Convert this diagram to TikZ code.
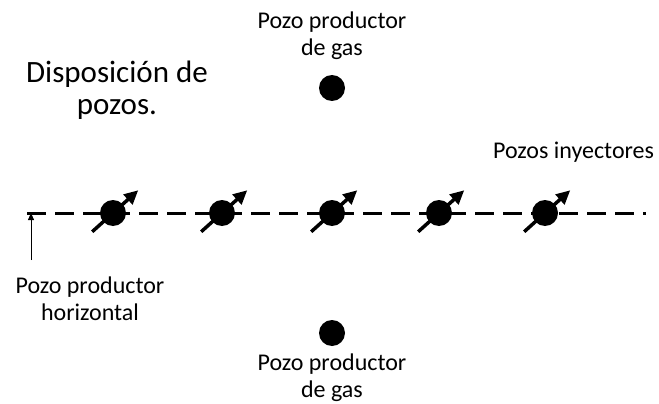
\documentclass[tikz,border=0pt]{standalone}
\usepackage{fontspec}
\setmainfont{Carlito}
\usetikzlibrary{arrows.meta}

\begin{document}
\begin{tikzpicture}[
  x=1pt, y=1pt,
  lbl/.style={font=\fontsize{24}{27}\selectfont, align=center, inner sep=0pt},
  ttl/.style={font=\fontsize{31}{32}\selectfont, align=center, inner sep=0pt},
  well/.style={circle, fill=black, minimum size=26pt, inner sep=0pt},
  trace/.style={line width=3pt, dash pattern=on 19pt off 9pt},
  injarr/.style={-{Triangle[length=14pt,width=13pt]}, line width=3.5pt},
  thinarr/.style={-{Triangle[length=7pt,width=6pt]}, line width=0.8pt}
]
\useasboundingbox (0,0) rectangle (659,-404);

% ===== title =====
\node[ttl] (title) at (117,-90) {Disposición de\\pozos.};

% ===== gas producers =====
\node[well] (gasN) at (332,-88) {};
\node[well] (gasS) at (332,-333) {};
\node[lbl] (gasNlbl) at (332,-36) {Pozo productor\\de gas};
\node[lbl] (gasSlbl) at (332,-378) {Pozo productor\\de gas};

% ===== horizontal producer =====
\coordinate (hzA) at (27,-213);
\coordinate (hzB) at (646,-213);
\draw[trace] (hzA) -- (hzB);
\coordinate (hzTail) at (31,-260);
\coordinate (hzTip) at (31,-213);
\draw[thinarr] (hzTail) -- (hzTip);
\node[lbl] (hzlbl) at (90,-299) {Pozo productor\\horizontal};

% ===== injectors =====
\foreach \x [count=\k] in {113,222,332,439,545} {
  \node[well] (inj\k) at (\x,-213) {};
  \draw[injarr] ([shift={(222:28)}]inj\k.center) -- ([shift={(42:34)}]inj\k.center);
}
\node[lbl, anchor=base west] (injlbl) at (493,-158) {Pozos inyectores};
\end{tikzpicture}
\end{document}
